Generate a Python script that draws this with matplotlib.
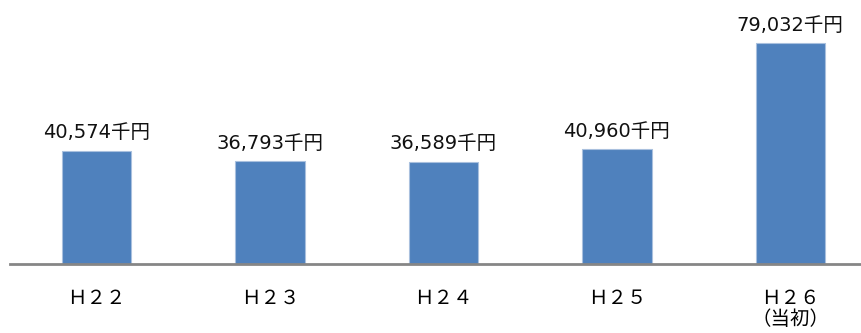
import matplotlib.pyplot as plt

plt.rcParams['font.family'] = ['DejaVu Sans', 'Noto Sans CJK JP']

categories = ['Ｈ２２', 'Ｈ２３', 'Ｈ２４', 'Ｈ２５', 'Ｈ２６\n（当初）']
values = [40574, 36793, 36589, 40960, 79032]

fig = plt.figure(figsize=(8.61, 3.33), dpi=100)
ax = fig.add_axes([10 / 861, 69 / 333, 851 / 861, 264 / 333])

barras = ax.bar(range(len(values)), values, width=0.4, color='#4F81BD',
                edgecolor='#A9C0DE', linewidth=0.8)
ax.bar_label(barras, labels=[f"{v:,}千円" for v in values], padding=6,
             fontsize=14, color='#111111')

ax.set_xlim(-0.5, -0.5 + 851 / 173.4)
ax.set_ylim(0, 94400)
ax.set_xticks(range(len(categories)))
ax.set_xticklabels(categories, fontsize=14, linespacing=1.05,
                   family=['Noto Sans CJK JP', 'DejaVu Sans'])
ax.tick_params(axis='x', length=0, pad=17)
ax.set_yticks([])
for s in ['top', 'right', 'left']:
    ax.spines[s].set_visible(False)
ax.spines['bottom'].set_color('#868686')
ax.spines['bottom'].set_linewidth(2)

plt.savefig('out.png', dpi=100)
